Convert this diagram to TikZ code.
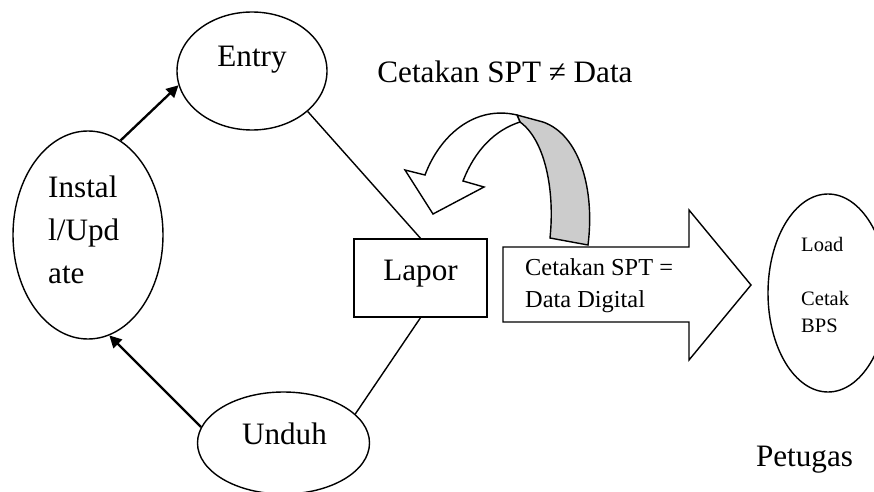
\documentclass[tikz,border=0pt]{standalone}
\usepackage{fontspec}
\setmainfont{Liberation Serif}
\usetikzlibrary{positioning, arrows.meta, shapes.geometric}
\tikzset{
    oval/.style={ellipse, draw, line width=1.2pt, inner sep=0pt},
    lapbox/.style={rectangle, draw, line width=1.2pt, inner sep=0pt, minimum width=39.9mm, minimum height=23.4mm},
    bigtxt/.style={font=\fontsize{26.6}{36.7}\selectfont, inner sep=0pt},
    midtxt/.style={font=\fontsize{20.8}{27.3}\selectfont, inner sep=0pt, align=left},
    smalltxt/.style={font=\fontsize{17.5}{23}\selectfont, inner sep=0pt, align=left},
    flow/.style={-{Triangle[length=3.6mm, width=3.6mm]}, line width=2pt},
    link/.style={line width=1.2pt}
}
\begin{document}
\begin{tikzpicture}[x=0.3mm, y=-0.3mm]
\useasboundingbox (0,0) rectangle (874,492);
\node[oval, minimum width=45mm, minimum height=35.4mm] (entry) at (252,71) {};
\node[oval, minimum width=45mm, minimum height=62.4mm] (instal) at (88,235) {};
\node[oval, minimum width=51.6mm, minimum height=30.6mm] (unduh) at (283.5,443) {};
\node[oval, minimum width=36mm, minimum height=59.4mm] (cetak) at (828,293) {};
\node[lapbox] (lapor) at (420.5,278) {};

\node[bigtxt, anchor=base] (entrytxt) at (252,67) {Entry};
\node[bigtxt, anchor=north west, align=left] (instaltxt) at (48,176) {Instal\\l/Upd\\ate};
\node[bigtxt, anchor=base] (unduhtxt) at (284.5,444) {Unduh};
\node[bigtxt, anchor=base] (laportxt) at (420.5,280) {Lapor};
\node[bigtxt, anchor=base] (neqtxt) at (505,83) {Cetakan SPT ≠ Data};
\node[bigtxt, anchor=base] (petugas) at (804.5,466) {Petugas};

% block arrow and ribbon arrow
\draw[link] (503,247) -- (689,247) -- (689,210) -- (751,285) -- (689,360) -- (689,322) -- (503,322) -- cycle;
\node[midtxt, anchor=north west] (digital) at (525,258.5) {Cetakan SPT =\\Data Digital};
\node[smalltxt, anchor=north west] (cetaktxt) at (801,237) {Load\\[8.1mm]Cetak\\BPS};
\draw[link, fill=black!20] (517,115) -- (543,122) .. controls (580,135) and (595,190) .. (588,245)
    -- (550,238) .. controls (555,190) and (545,140) .. (520,122) -- cycle;
\draw[link, fill=white] (517,115) .. controls (475,105) and (440,135) .. (425,175) -- (405,170)
    -- (433,214) -- (484,187) -- (463,181) .. controls (475,150) and (495,130) .. (520,122) -- cycle;

\draw[flow] (instal.71) -- (entry.191);
\draw[flow] (unduh.169) -- (instal.282);
\draw[link] (entry.324) -- (lapor.north);
\draw[link] (lapor.south) -- (unduh.22);
\end{tikzpicture}
\end{document}
